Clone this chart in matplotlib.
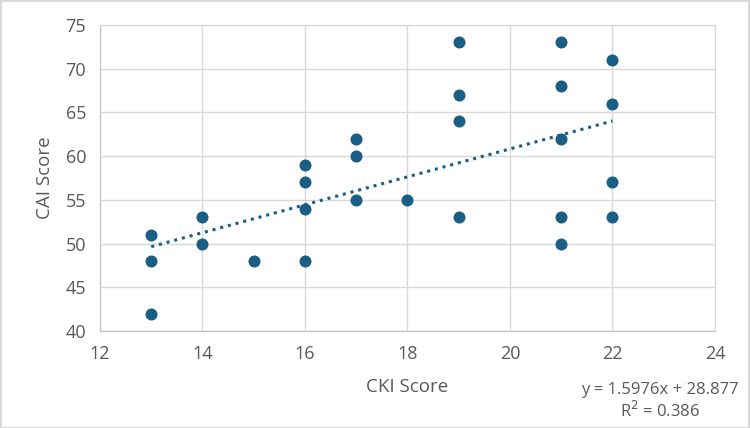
import matplotlib
matplotlib.use("Agg")
import matplotlib.pyplot as plt
import numpy as np

cki = [13, 13, 13, 14, 14, 15, 16, 16, 16, 16, 17, 17, 17, 18,
       19, 19, 19, 19, 21, 21, 21, 21, 21, 22, 22, 22, 22]
cai = [51, 48, 42, 53, 50, 48, 59, 57, 54, 48, 62, 60, 55, 55,
       73, 67, 64, 53, 73, 68, 62, 53, 50, 71, 66, 57, 53]
slope = 1.5976
intercept = 28.877
r2 = 0.386
x_ticks = [12, 14, 16, 18, 20, 22, 24]
y_ticks = [40, 45, 50, 55, 60, 65, 70, 75]

plt.rcParams['font.family'] = ['Open Sans', 'DejaVu Sans']
color = '#1a5e86'
txt = '#595959'

fig = plt.figure(figsize=(7.5, 4.28), dpi=100)
ax = fig.add_axes([0.1333, 0.2266, 0.82, 0.715])

ax.scatter(cki, cai, s=75, color=color, zorder=3, linewidths=0)
xl = np.array([min(cki), max(cki)])
ax.plot(xl, slope * xl + intercept, linestyle=(0, (1, 1.6)), color=color, lw=2.2, zorder=2)

ax.set_xlim(12, 24)
ax.set_ylim(40, 75)
ax.set_xticks(x_ticks)
ax.set_yticks(y_ticks)
ax.grid(True, color='#d9d9d9', lw=1)
ax.set_axisbelow(True)
for s in ['top', 'right']:
    ax.spines[s].set_color('#d9d9d9')
for s in ['left', 'bottom']:
    ax.spines[s].set_color('#bfbfbf')
ax.tick_params(length=0, labelsize=13, labelcolor=txt, pad=10)
ax.set_xlabel('CKI Score', fontsize=13.5, color=txt, labelpad=11)
ax.set_ylabel('CAI Score', fontsize=13.5, color=txt, labelpad=8)

fig.text(0.88, 0.062, f'y = {slope}x + {intercept}\nR$^2$ = {r2}', ha='center', va='center',
         fontsize=12, color=txt, linespacing=1.15, multialignment='center')

fig.patches.append(plt.Rectangle((0.001, 0.001), 0.998, 0.997, transform=fig.transFigure,
                                 fill=False, edgecolor='#d9d9d9', lw=1.5))
fig.savefig('out.png', dpi=100)
